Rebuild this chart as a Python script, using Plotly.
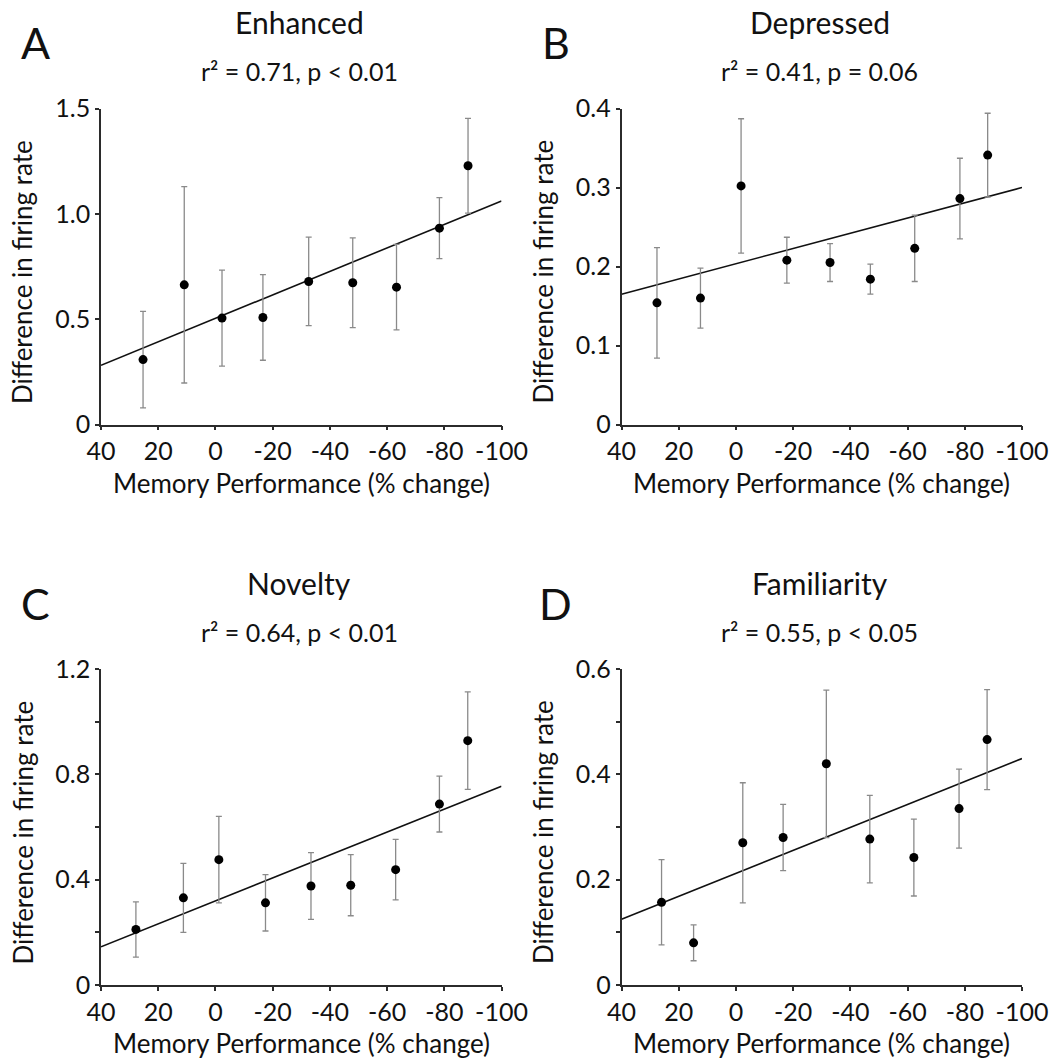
import plotly.graph_objects as go

# ---- data -------------------------------------------------------------
x_tick_vals = [40, 20, 0, -20, -40, -60, -80, -100]
x_tick_text = ["40", "20", "0", "-20", "-40", "-60", "-80", "-100"]

# Enhanced
enh_x = [25.3, 10.9, -2.3, -16.6, -32.6, -48.0, -63.3, -78.3, -88.3]
enh_y = [0.308, 0.663, 0.505, 0.508, 0.679, 0.673, 0.652, 0.932, 1.228]
enh_err = [0.229, 0.466, 0.228, 0.203, 0.210, 0.213, 0.203, 0.145, 0.225]
enh_fit = [0.281, 1.061]          # regression line at x = 40 and x = -100
enh_yticks = [0, 0.5, 1.0, 1.5]
enh_ytext = ["0", "0.5", "1.0", "1.5"]

# Depressed
dep_x = [27.6, 12.4, -1.8, -17.8, -32.9, -47.0, -62.5, -78.3, -88.0]
dep_y = [0.154, 0.160, 0.302, 0.208, 0.205, 0.184, 0.223, 0.286, 0.341]
dep_err = [0.070, 0.038, 0.085, 0.029, 0.024, 0.019, 0.042, 0.051, 0.053]
dep_fit = [0.165, 0.300]
dep_yticks = [0, 0.1, 0.2, 0.3, 0.4]
dep_ytext = ["0", "0.1", "0.2", "0.3", "0.4"]

# Novelty
nov_x = [27.8, 11.2, -1.2, -17.5, -33.4, -47.3, -63.0, -78.3, -88.2]
nov_y = [0.211, 0.331, 0.476, 0.312, 0.376, 0.379, 0.438, 0.687, 0.928]
nov_err = [0.105, 0.131, 0.164, 0.107, 0.127, 0.116, 0.115, 0.106, 0.185]
nov_fit = [0.145, 0.755]
nov_yticks = [0, 0.4, 0.8, 1.2]
nov_ytext = ["0", "0.4", "0.8", "1.2"]
nov_yminor = [0.2, 0.6, 1.0]

# Familiarity
fam_x = [26.0, 14.8, -2.4, -16.5, -31.6, -46.8, -62.2, -78.0, -87.8]
fam_y = [0.157, 0.080, 0.270, 0.280, 0.420, 0.277, 0.242, 0.335, 0.466]
fam_err = [0.081, 0.034, 0.114, 0.063, 0.140, 0.083, 0.073, 0.075, 0.095]
fam_fit = [0.125, 0.430]
fam_yticks = [0, 0.2, 0.4, 0.6]
fam_ytext = ["0", "0.2", "0.4", "0.6"]
fam_yminor = [0.1, 0.3, 0.5]

fit_x = [40, -100]

panels = [
    dict(letter="A", title="Enhanced", stat="r² = 0.71, p < 0.01",
         x=enh_x, y=enh_y, err=enh_err, fit=enh_fit,
         yticks=enh_yticks, ytext=enh_ytext, yminor=[]),
    dict(letter="B", title="Depressed", stat="r² = 0.41, p = 0.06",
         x=dep_x, y=dep_y, err=dep_err, fit=dep_fit,
         yticks=dep_yticks, ytext=dep_ytext, yminor=[]),
    dict(letter="C", title="Novelty", stat="r² = 0.64, p < 0.01",
         x=nov_x, y=nov_y, err=nov_err, fit=nov_fit,
         yticks=nov_yticks, ytext=nov_ytext, yminor=nov_yminor),
    dict(letter="D", title="Familiarity", stat="r² = 0.55, p < 0.05",
         x=fam_x, y=fam_y, err=fam_err, fit=fam_fit,
         yticks=fam_yticks, ytext=fam_ytext, yminor=fam_yminor),
]

# ---- layout geometry (pixels) -----------------------------------------
W, H = 1055, 1059
FONT = "Lato"
INK = "#111111"
AXIS = "#2b2b2b"
ERR = "#8a8a8a"

cols = [(101, 501.5), (621.5, 1022)]
rows = [(108.5, 424.5), (669, 985)]


def fx(p):
    return p / W


def fy(p):
    return 1 - p / H


fig = go.Figure()
annotations = []
layout_axes = {}

for i, p in enumerate(panels):
    r, c = divmod(i, 2)
    left, right = cols[c]
    top, bottom = rows[r]
    n = i + 1
    xa = "x" if n == 1 else f"x{n}"
    ya = "y" if n == 1 else f"y{n}"

    # regression line
    fig.add_trace(go.Scatter(
        x=fit_x, y=p["fit"], mode="lines",
        line=dict(color="#111111", width=1.6),
        xaxis=xa, yaxis=ya, showlegend=False, hoverinfo="skip"))
    # means with error bars
    fig.add_trace(go.Scatter(
        x=p["x"], y=p["y"], mode="markers",
        marker=dict(color="#000000", size=9),
        error_y=dict(type="data", array=p["err"], visible=True,
                     color=ERR, thickness=1.3, width=3),
        xaxis=xa, yaxis=ya, showlegend=False))

    xkey = "xaxis" if n == 1 else f"xaxis{n}"
    ykey = "yaxis" if n == 1 else f"yaxis{n}"
    layout_axes[xkey] = dict(
        domain=[fx(left), fx(right)], anchor=ya, automargin=False,
        range=[40, -100], tickmode="array",
        tickvals=x_tick_vals, ticktext=x_tick_text,
        ticks="outside", ticklen=4, tickwidth=1.5, tickcolor=AXIS,
        showline=True, linecolor=AXIS, linewidth=1.5,
        showgrid=False, zeroline=False,
        tickfont=dict(family=FONT, size=25, color=INK))
    ymax = p["yticks"][-1]
    yaxis = dict(
        domain=[fy(bottom), fy(top)], anchor=xa, automargin=False,
        range=[0, ymax], tickmode="array",
        tickvals=p["yticks"], ticktext=p["ytext"],
        ticks="outside", ticklen=4, tickwidth=1.5, tickcolor=AXIS,
        showline=True, linecolor=AXIS, linewidth=1.5,
        showgrid=False, zeroline=False,
        tickfont=dict(family=FONT, size=25, color=INK))
    if p["yminor"]:
        yaxis["minor"] = dict(tickmode="array", tickvals=p["yminor"],
                              ticks="outside", ticklen=4, tickwidth=1.5,
                              tickcolor=AXIS, showgrid=False)
    layout_axes[ykey] = yaxis

    cx = (left + right) / 2 - 2
    # panel letter
    annotations.append(dict(
        text=p["letter"], x=fx(left - 66), y=fy(top - 66),
        xref="paper", yref="paper", xanchor="center", yanchor="middle",
        showarrow=False, font=dict(family=FONT, size=43, color=INK)))
    # panel title
    annotations.append(dict(
        text=p["title"], x=fx(cx), y=fy(top - 86),
        xref="paper", yref="paper", xanchor="center", yanchor="middle",
        showarrow=False, font=dict(family=FONT, size=30, color=INK)))
    # regression statistics
    annotations.append(dict(
        text=p["stat"], x=fx(cx), y=fy(top - 37),
        xref="paper", yref="paper", xanchor="center", yanchor="middle",
        showarrow=False, font=dict(family=FONT, size=25, color=INK)))
    # x axis title
    annotations.append(dict(
        text="Memory Performance (% change)", x=fx((left + right) / 2),
        y=fy(bottom + 58), xref="paper", yref="paper",
        xanchor="center", yanchor="middle", showarrow=False,
        font=dict(family=FONT, size=26, color=INK)))
    # y axis title
    annotations.append(dict(
        text="Difference in firing rate", x=fx(left - 79),
        y=fy((top + bottom) / 2 + 5.5), xref="paper", yref="paper",
        xanchor="center", yanchor="middle", textangle=-90, showarrow=False,
        font=dict(family=FONT, size=26, color=INK)))

fig.update_layout(
    width=W, height=H,
    margin=dict(l=0, r=0, t=0, b=0),
    paper_bgcolor="white", plot_bgcolor="white",
    font=dict(family=FONT, color=INK),
    annotations=annotations,
    **layout_axes)

fig.write_html("out.html", config={"displayModeBar": False})
